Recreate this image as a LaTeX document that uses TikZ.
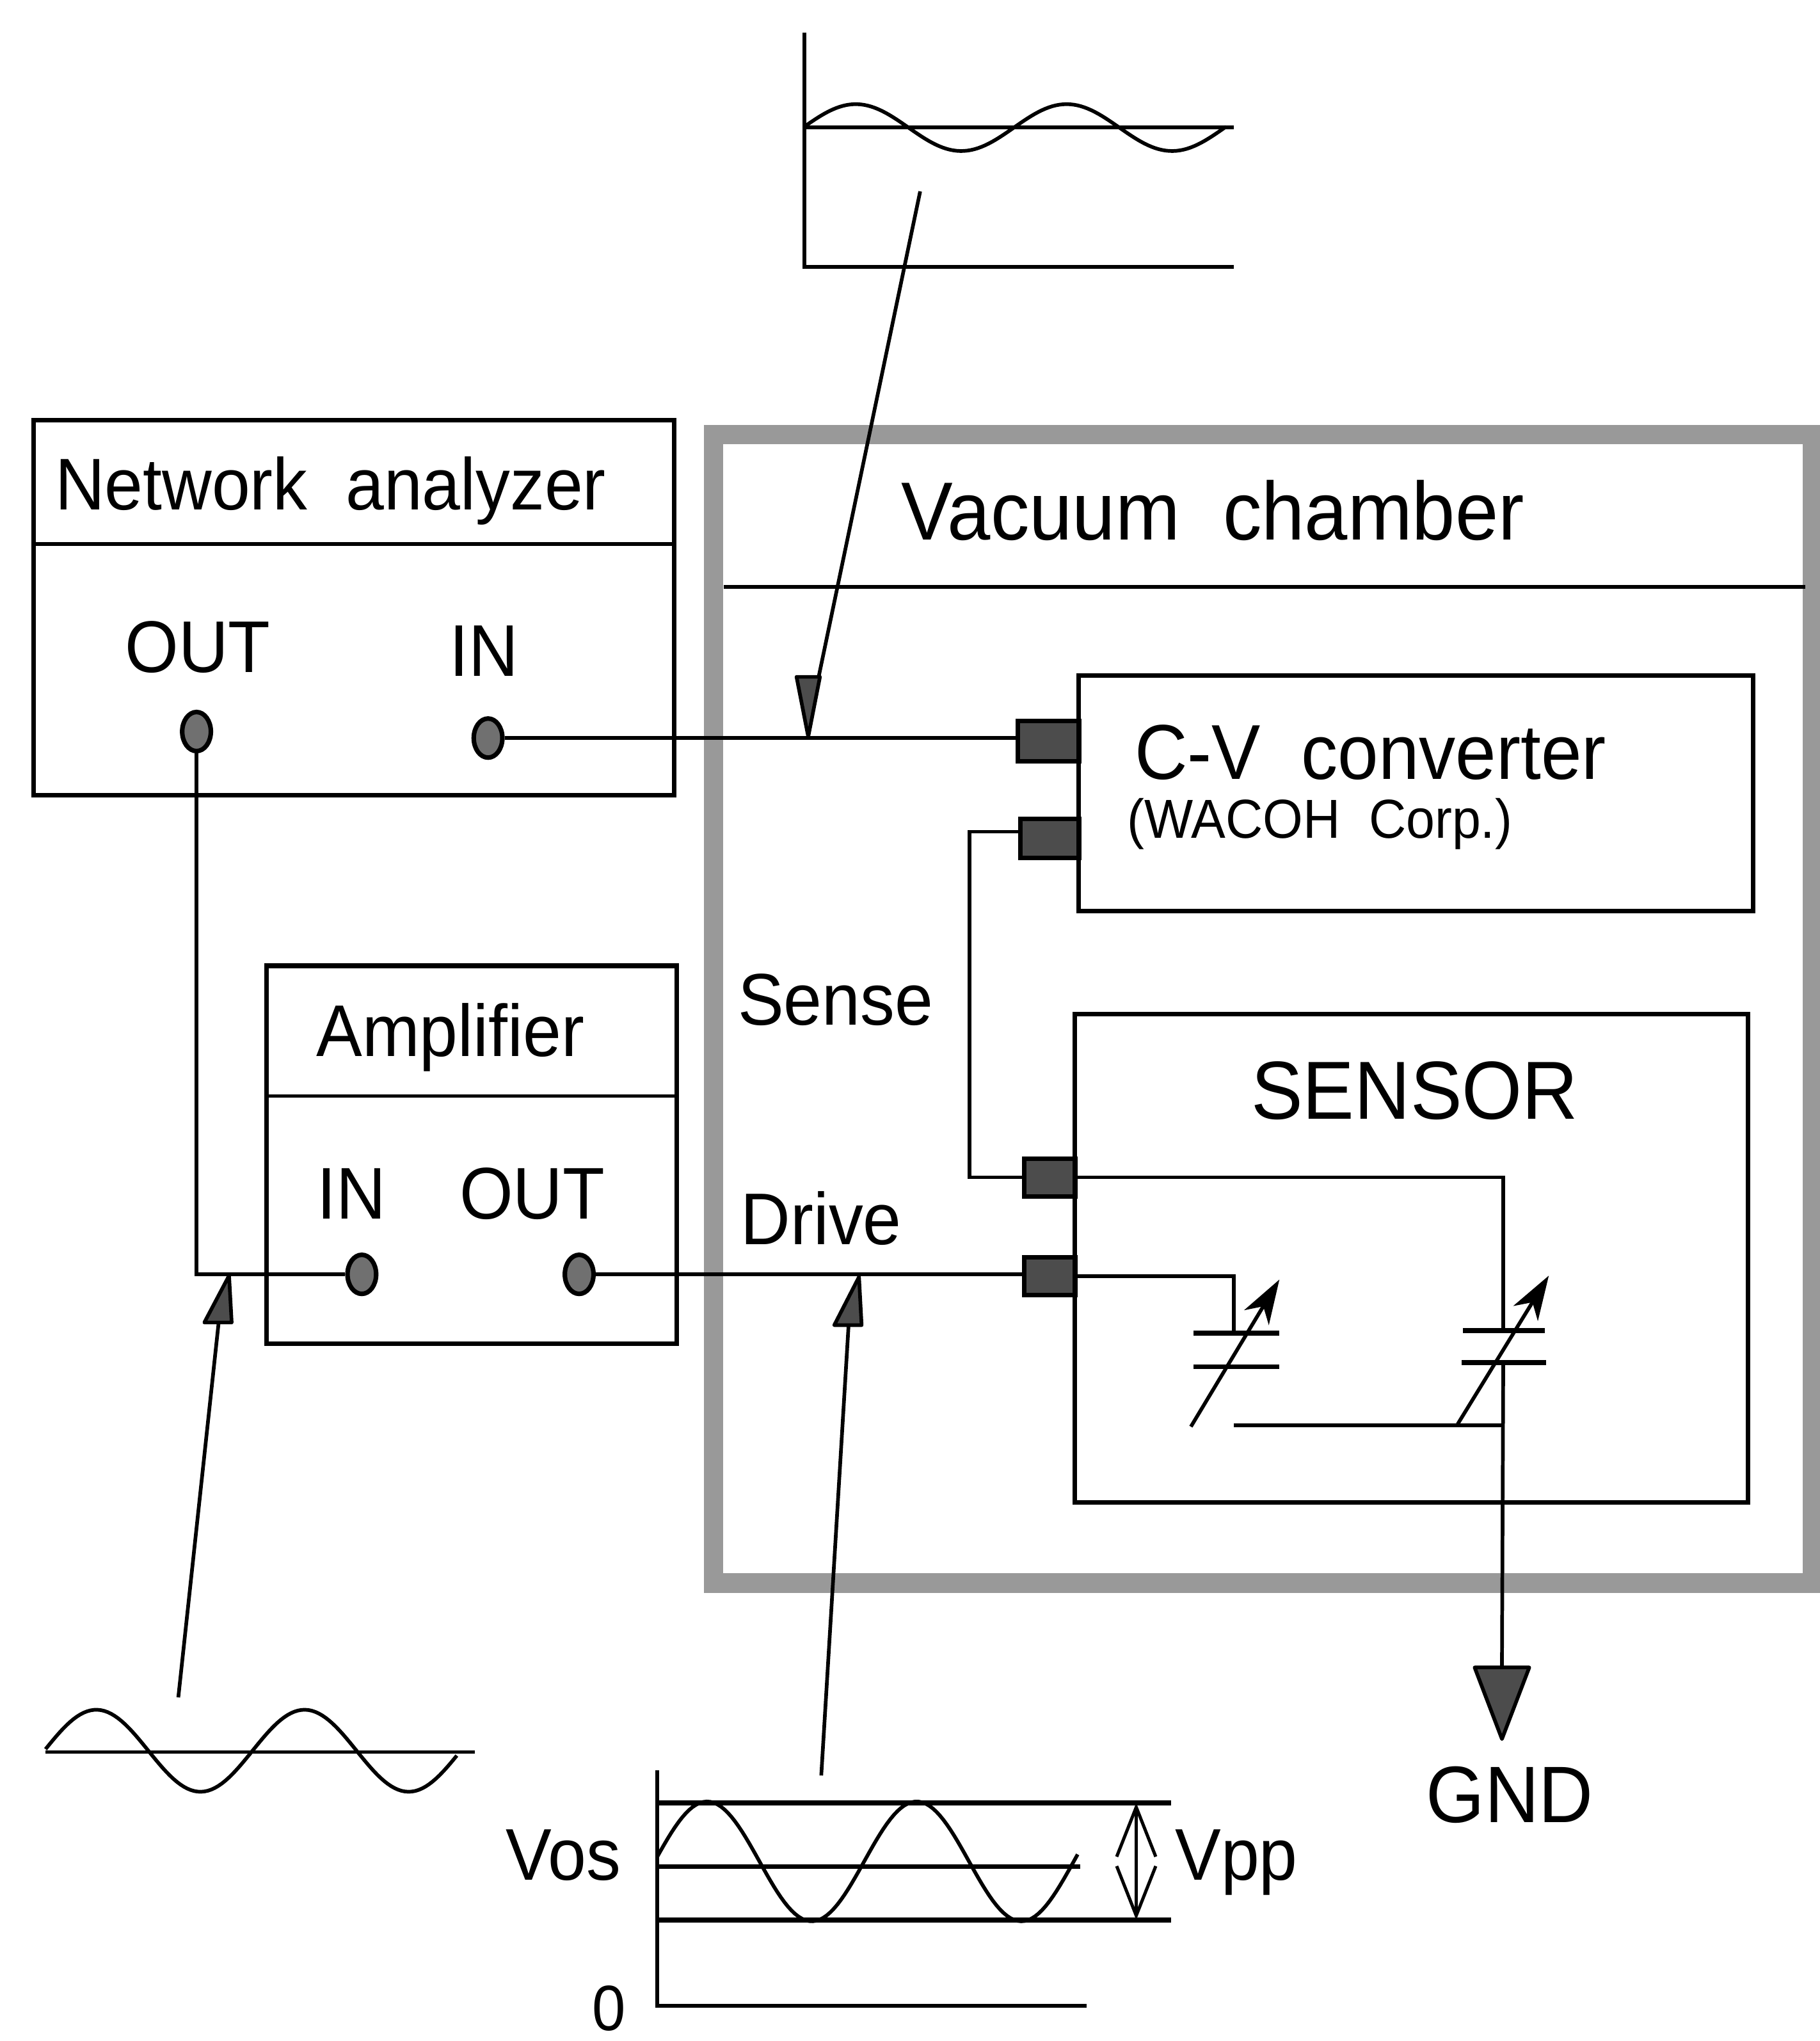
\documentclass[tikz,border=0pt]{standalone}
\usepackage{fontspec}
\usepackage{tikz}
\setmainfont[FakeStretch=0.94]{Liberation Sans}
\usetikzlibrary{arrows.meta}
\usetikzlibrary{positioning}
\usetikzlibrary{shapes.geometric}
\tikzset{unit/.style = {draw, rectangle, fill = white, line width = 1pt, inner sep = 0, outer sep = 0}}
\tikzset{pad/.style = {draw, rectangle, fill = mgrey, line width = 1pt, inner sep = 0, outer sep = 0}}
\tikzset{port/.style = {draw, ellipse, fill = mgrey!80, line width = 1pt, inner sep = 0, minimum width = 0.22cm, minimum height = 0.3cm}}
\tikzset{lbl/.style = {inner sep = 0, font = \fontsize{16}{20}\selectfont}}
\tikzset{wire/.style = {line width = 0.8pt}}
\tikzset{level/.style = {line width = 1.1pt}}
\tikzset{head/.style = {draw, fill = mgrey, line width = 0.8pt, line join = round}}
\tikzset{trim/.style = {line width = 0.8pt, -{Stealth[length = 3.4mm, width = 2.2mm, inset = 1mm]}}}
\tikzset{swing/.style = {line width = 0.7pt, {Straight Barb[length = 3.8mm, width = 3mm]}-{Straight Barb[length = 3.8mm, width = 3mm]}}}
\definecolor{mgrey}{rgb}{0.3, 0.3, 0.3}
\definecolor{mband}{rgb}{0.6, 0.6, 0.6}
\begin{document}
\begin{tikzpicture}[x = 0.01cm, y = -0.01cm]
    \useasboundingbox (0, 0) rectangle (1398, 1568);

    \node [draw = mband, line width = 0.15cm, rectangle, inner sep = 0, minimum width = 8.44cm, minimum height = 8.82cm] (chamber) at (970.5, 775) {};
    \coordinate (chamberL) at (556, 451);
    \coordinate (chamberR) at (1387, 451);
    \draw [wire] (chamberL) -- (chamberR);
    \node [lbl, font = \fontsize{18}{22}\selectfont] (chamberName) at (932, 392) {Vacuum~~chamber};

    \node [unit, minimum width = 4.92cm, minimum height = 2.88cm] (analyzer) at (272, 467) {};
    \coordinate (analyzerL) at (26, 418);
    \coordinate (analyzerR) at (518, 418);
    \draw [wire] (analyzerL) -- (analyzerR);
    \node [lbl] (analyzerName) at (254, 377) {Network~~analyzer};
    \node [lbl] (naOutName) at (152, 497) {OUT};
    \node [lbl] (naInName) at (372, 500) {IN};
    \node [port] (naOut) at (151, 562) {};
    \node [port] (naIn) at (375, 567) {};

    \node [unit, minimum width = 3.15cm, minimum height = 2.9cm] (amplifier) at (362.5, 887) {};
    \coordinate (amplifierL) at (205, 842);
    \coordinate (amplifierR) at (520, 842);
    \draw [wire] (amplifierL) -- (amplifierR);
    \node [lbl] (amplifierName) at (346, 797) {Amplifier};
    \node [lbl] (ampInName) at (270, 917) {IN};
    \node [lbl] (ampOutName) at (409, 917) {OUT};
    \node [port] (ampIn) at (278, 979) {};
    \node [port] (ampOut) at (445, 979) {};

    \node [unit, minimum width = 5.18cm, minimum height = 1.81cm] (converter) at (1088, 609.5) {};
    \node [lbl, font = \fontsize{17}{20}\selectfont] (converterName) at (1053, 578) {C-V~~converter};
    \node [lbl, font = \fontsize{12}{15}\selectfont] (converterMaker) at (1014, 633) {(WACOH~~Corp.)};
    \node [pad, minimum width = 0.47cm, minimum height = 0.31cm] (cvPadA) at (805.5, 569.5) {};
    \node [pad, minimum width = 0.45cm, minimum height = 0.3cm] (cvPadB) at (806.5, 644) {};

    \node [unit, minimum width = 5.17cm, minimum height = 3.75cm] (sensor) at (1084.5, 966.5) {};
    \node [lbl, font = \fontsize{18}{22}\selectfont] (sensorName) at (1087, 838) {SENSOR};
    \node [pad, minimum width = 0.39cm, minimum height = 0.29cm] (snPadA) at (806.5, 904.5) {};
    \node [pad, minimum width = 0.39cm, minimum height = 0.29cm] (snPadB) at (806.5, 980.5) {};

    \draw [wire] (naIn) -- (naIn -| cvPadA.west);
    \draw [wire] (naOut) |- (ampIn);
    \draw [wire] (ampOut) -- (ampOut -| snPadB.west);
    \coordinate (senseTop) at (745, 639);
    \draw [wire] (senseTop -| cvPadB.west) -- (senseTop) |- (snPadA.west);
    \node [lbl] (senseName) at (642, 768) {Sense};
    \node [lbl] (driveName) at (631, 936) {Drive};

    \coordinate (plateA) at (948, 1024);
    \coordinate (plateB) at (948, 1050);
    \coordinate (plateC) at (1155, 1022);
    \coordinate (plateD) at (1155, 1047);
    \coordinate (link) at (948, 1095);
    \coordinate (gndTop) at (1154, 1281);
    \draw [wire] (snPadB.east) -| (plateA);
    \draw [wire] (snPadA.east) -| (plateC);
    \draw [level] ([shift = {(-31, 0)}] plateA) -- ([shift = {(35, 0)}] plateA);
    \draw [level] ([shift = {(-31, 0)}] plateB) -- ([shift = {(35, 0)}] plateB);
    \draw [level] ([shift = {(-31, 0)}] plateC) -- ([shift = {(32, 0)}] plateC);
    \draw [level] ([shift = {(-32, 0)}] plateD) -- ([shift = {(33, 0)}] plateD);
    \draw [wire] (plateD) -- (gndTop);
    \draw [wire] (link) -- (link -| plateD);
    \coordinate (trimAs) at (915, 1096);
    \coordinate (trimAe) at (983, 983);
    \coordinate (trimBs) at (1120, 1094);
    \coordinate (trimBe) at (1190, 980);
    \draw [trim] (trimAs) -- (trimAe);
    \draw [trim] (trimBs) -- (trimBe);

    \draw [head] (1133, 1281) -- (1175, 1281) -- (1154, 1336) -- cycle;
    \node [lbl, font = \fontsize{17.5}{22}\selectfont] (gndName) at (1160, 1379) {GND};

    % sense signal
    \coordinate (senseAxisT) at (618, 25);
    \coordinate (senseAxisO) at (618, 205);
    \coordinate (senseAxisR) at (948, 205);
    \draw [wire] (senseAxisT) -- (senseAxisO) -- (senseAxisR);
    \draw [wire] (618, 98) -- (948, 98);
    \draw [wire, domain = 618:942, samples = 120] plot(\x, {98 - 18 * sin(2.222 * (\x - 617))});
    \coordinate (senseTail) at (707, 147);
    \coordinate (senseTip) at (621, 566);
    \draw [wire] (senseTail) -- (629, 520);
    \draw [head] (612, 520) -- (630, 520) -- (senseTip) -- cycle;

    % source signal
    \draw [wire] (35, 1346) -- (365, 1346);
    \draw [wire, domain = 35:351, samples = 120] plot(\x, {1345 - 31.5 * sin(2.25 * (\x - 34))});
    \coordinate (sourceTail) at (137, 1304);
    \coordinate (sourceTip) at (176, 980);
    \draw [wire] (sourceTail) -- (168, 1016);
    \draw [head] (157, 1016) -- (178, 1016) -- (sourceTip) -- cycle;

    % drive signal
    \coordinate (driveAxisT) at (505, 1360);
    \coordinate (driveAxisO) at (505, 1541);
    \coordinate (driveAxisR) at (835, 1541);
    \draw [wire] (driveAxisT) -- (driveAxisO) -- (driveAxisR);
    \draw [level] (505, 1385) -- (900, 1385);
    \draw [level] (505, 1434) -- (830, 1434);
    \draw [level] (505, 1475) -- (900, 1475);
    \draw [wire, domain = 505:828, samples = 120] plot(\x, {1430 - 46 * sin(2.236 * (\x - 503))});
    \coordinate (swingT) at (873, 1385);
    \coordinate (swingB) at (873, 1475);
    \draw [swing] (swingT) -- (swingB);
    \coordinate (driveTail) at (631, 1364);
    \coordinate (driveTip) at (660, 981);
    \draw [wire] (driveTail) -- (652, 1018);
    \draw [head] (641, 1018) -- (662, 1018) -- (driveTip) -- cycle;
    \node [lbl] (vosName) at (433, 1425) {Vos};
    \node [lbl] (vppName) at (950, 1431) {Vpp};
    \node [lbl, font = \fontsize{14}{17}\selectfont] (zeroName) at (468, 1543) {0};
\end{tikzpicture}
\end{document}
